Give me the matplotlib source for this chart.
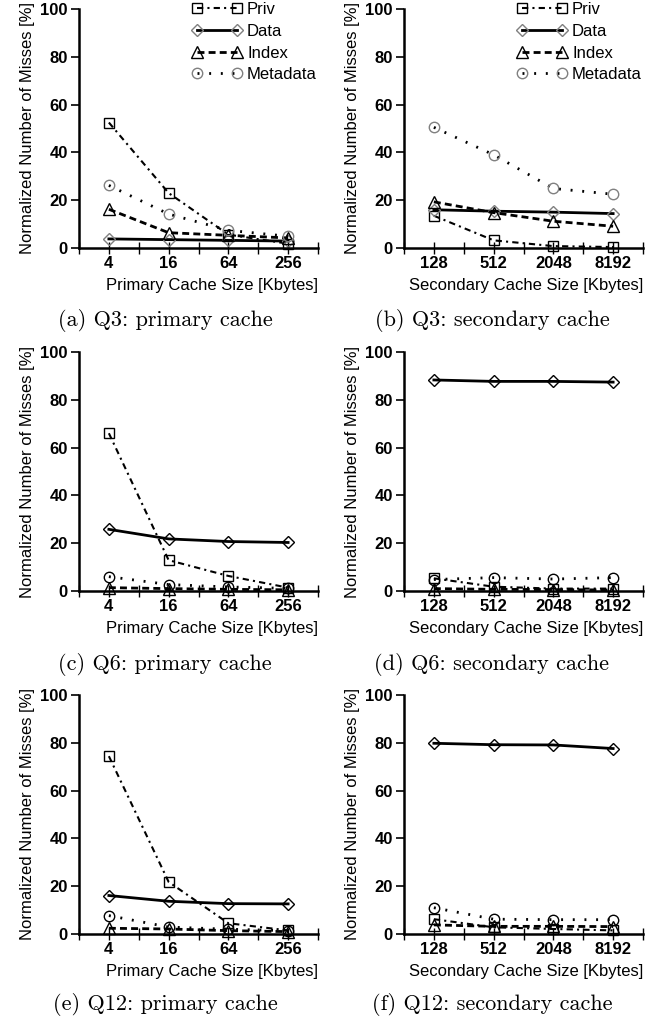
import numpy as np
import matplotlib
matplotlib.use('Agg')
import matplotlib.pyplot as plt

plt.rcParams['font.family'] = ['Liberation Sans', 'DejaVu Sans']

# x categories
primary_sizes = ['4', '16', '64', '256']
secondary_sizes = ['128', '512', '2048', '8192']

# (a) Q3 primary cache
q3_pri_priv = [52.5, 23.0, 5.6, 1.8]
q3_pri_data = [3.8, 3.5, 3.2, 2.9]
q3_pri_index = [16.2, 6.4, 5.3, 4.2]
q3_pri_meta = [26.2, 14.2, 7.4, 4.9]

# (b) Q3 secondary cache
q3_sec_priv = [13.5, 3.2, 0.8, 0.4]
q3_sec_data = [16.0, 15.4, 15.0, 14.4]
q3_sec_index = [19.3, 14.8, 11.2, 9.1]
q3_sec_meta = [50.5, 39.0, 24.9, 22.5]

# (c) Q6 primary cache
q6_pri_priv = [66.0, 12.9, 6.3, 1.4]
q6_pri_data = [25.8, 21.8, 20.7, 20.3]
q6_pri_index = [1.4, 1.0, 0.7, 0.5]
q6_pri_meta = [6.0, 2.7, 1.7, 1.1]

# (d) Q6 secondary cache
q6_sec_priv = [5.3, 1.8, 1.0, 1.0]
q6_sec_data = [88.3, 87.7, 87.7, 87.4]
q6_sec_index = [1.0, 0.7, 0.6, 0.4]
q6_sec_meta = [4.8, 5.6, 5.0, 5.6]

# (e) Q12 primary cache
q12_pri_priv = [74.4, 21.8, 4.5, 1.5]
q12_pri_data = [16.1, 13.7, 12.7, 12.6]
q12_pri_index = [2.4, 2.1, 1.4, 1.0]
q12_pri_meta = [7.7, 2.9, 2.0, 1.4]

# (f) Q12 secondary cache
q12_sec_priv = [6.2, 2.8, 2.1, 1.5]
q12_sec_data = [79.8, 79.2, 79.1, 77.6]
q12_sec_index = [3.8, 3.2, 3.2, 3.1]
q12_sec_meta = [11.0, 6.2, 6.0, 6.0]

series_names = ['Priv', 'Data', 'Index', 'Metadata']
captions = ['(a) Q3: primary cache', '(b) Q3: secondary cache',
            '(c) Q6: primary cache', '(d) Q6: secondary cache',
            '(e) Q12: primary cache', '(f) Q12: secondary cache']

panels = [
    (primary_sizes, [q3_pri_priv, q3_pri_data, q3_pri_index, q3_pri_meta]),
    (secondary_sizes, [q3_sec_priv, q3_sec_data, q3_sec_index, q3_sec_meta]),
    (primary_sizes, [q6_pri_priv, q6_pri_data, q6_pri_index, q6_pri_meta]),
    (secondary_sizes, [q6_sec_priv, q6_sec_data, q6_sec_index, q6_sec_meta]),
    (primary_sizes, [q12_pri_priv, q12_pri_data, q12_pri_index, q12_pri_meta]),
    (secondary_sizes, [q12_sec_priv, q12_sec_data, q12_sec_index, q12_sec_meta]),
]

W, H = 657, 1018
fig = plt.figure(figsize=(W / 100, H / 100), dpi=100)

col_left = [79, 404]
row_bottom = [248, 591, 934]
ax_w, ax_h = 239, 239
caption_y = [321, 664, 1004]
caption_x = [165, 492]

for i, (cats, vals) in enumerate(panels):
    r, c = divmod(i, 2)
    ax = fig.add_axes([col_left[c] / W, (H - row_bottom[r]) / H, ax_w / W, ax_h / H])
    x = np.arange(len(cats))
    light = '#808080' if r == 0 else 'black'
    styles = [
        dict(marker='s', ls=(0, (3, 2, 1, 2)), lw=1.5, mec='black'),
        dict(marker='D', ls='-', lw=2, mec=light, ms=6.5),
        dict(marker='^', ls=(0, (2.5, 1.5)), lw=2, mec='black', ms=8),
        dict(marker='o', ls=(0, (0.7, 3.5)), lw=2, mec=light),
    ]
    for name, v, st in zip(series_names, vals, styles):
        kw = dict(color='black', mfc='none', ms=7.5, mew=1)
        kw.update(st)
        ax.plot(x, v, label=name, clip_on=False, **kw)

    ax.set_xlim(-0.5, 3.5)
    ax.set_ylim(0, 100)
    ax.set_xticks(x)
    ax.set_xticks(np.arange(-0.5, 4.0, 1.0), minor=True)
    ax.set_xticklabels(cats, fontweight='bold', fontsize=12)
    ax.set_yticks(np.arange(0, 101, 20))
    ax.set_yticklabels([str(t) for t in range(0, 101, 20)], fontweight='bold', fontsize=12)
    ax.tick_params(axis='x', which='both', direction='inout', length=8, width=1, pad=2)
    ax.tick_params(axis='y', direction='out', length=6, width=1.2, pad=2)
    for s in ['top', 'right']:
        ax.spines[s].set_visible(False)
    for s in ['left', 'bottom']:
        ax.spines[s].set_linewidth(1.8)
    ax.set_ylabel('Normalized Number of Misses [%]', fontsize=12, labelpad=4)
    xl = 'Primary Cache Size [Kbytes]' if c == 0 else 'Secondary Cache Size [Kbytes]'
    ax.set_xlabel(xl, fontsize=12, loc='right', labelpad=5)

    if r == 0:
        ax.legend(loc='upper left', bbox_to_anchor=(0.473, 1.028), frameon=False,
                  numpoints=2, handlelength=3.0, handletextpad=0.3,
                  labelspacing=0.4, borderpad=0, borderaxespad=0, fontsize=12)

    fig.text(caption_x[c] / W, 1 - caption_y[r] / H, captions[i],
             family='cmr10', fontsize=16, ha='center', va='center')

fig.savefig('out.png', dpi=100)
